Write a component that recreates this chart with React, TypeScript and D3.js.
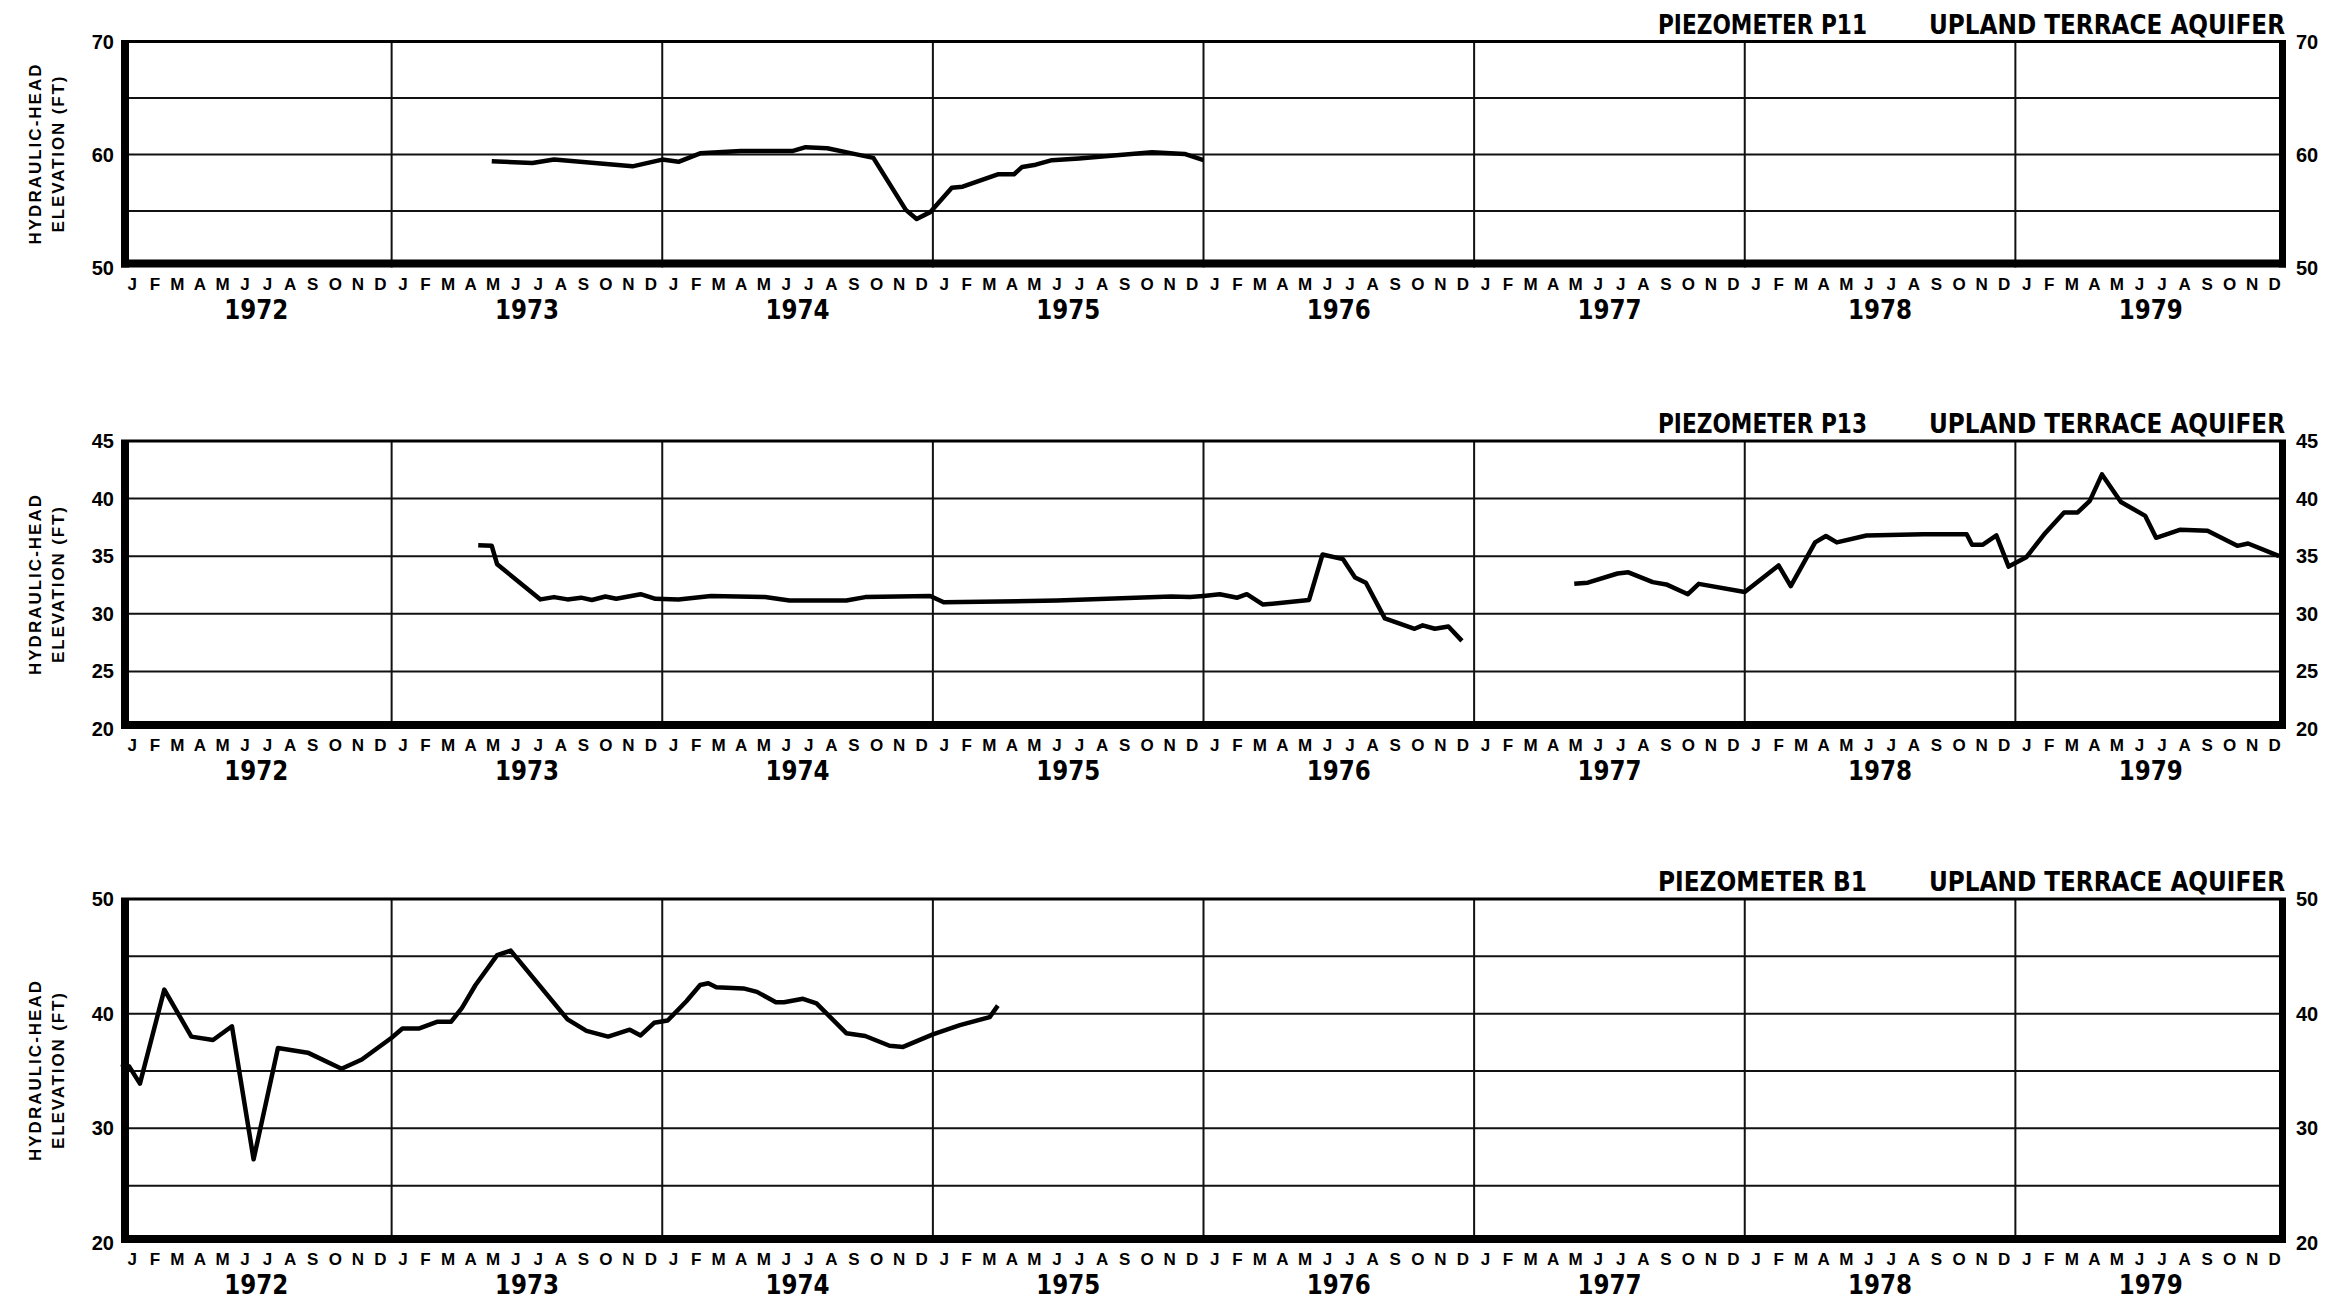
import * as d3 from 'd3'
import React, { useEffect, useRef } from 'react'

// time axis
const years = [1972, 1973, 1974, 1975, 1976, 1977, 1978, 1979]
const monthLetters = ['J', 'F', 'M', 'A', 'M', 'J', 'J', 'A', 'S', 'O', 'N', 'D']

// piezometer P11 (decimal year, head in ft)
const p11Dates = [
  1973.37, 1973.52, 1973.6, 1973.89, 1974.0, 1974.06, 1974.14, 1974.29, 1974.48,
  1974.53, 1974.61, 1974.7, 1974.78, 1974.9, 1974.94, 1974.99, 1975.07, 1975.11,
  1975.24, 1975.3, 1975.33, 1975.38, 1975.44, 1975.54, 1975.69, 1975.81, 1975.93,
  1976.0
]
const p11Heads = [
  59.4, 59.25, 59.55, 58.95, 59.55, 59.35, 60.1, 60.3, 60.3,
  60.65, 60.55, 60.1, 59.7, 55.1, 54.3, 54.9, 57.05, 57.15,
  58.25, 58.25, 58.9, 59.1, 59.5, 59.65, 59.95, 60.2, 60.05,
  59.5
]

// piezometer P13, first record
const p13aDates = [
  1973.32, 1973.37, 1973.39, 1973.55, 1973.6, 1973.65, 1973.7, 1973.74, 1973.79,
  1973.83, 1973.92, 1973.975, 1974.06, 1974.18, 1974.38, 1974.47, 1974.68, 1974.75,
  1974.99, 1975.04, 1975.46, 1975.88, 1975.95, 1976.0, 1976.06, 1976.125, 1976.16,
  1976.22, 1976.39, 1976.44, 1976.515, 1976.56, 1976.6, 1976.67, 1976.78, 1976.81,
  1976.855, 1976.905, 1976.955
]
const p13aHeads = [
  35.95, 35.9, 34.3, 31.25, 31.45, 31.25, 31.4, 31.2, 31.5,
  31.3, 31.7, 31.3, 31.25, 31.55, 31.45, 31.15, 31.15, 31.45,
  31.55, 31.0, 31.15, 31.5, 31.45, 31.55, 31.7, 31.4, 31.7,
  30.8, 31.2, 35.15, 34.75, 33.15, 32.7, 29.6, 28.7, 29.0,
  28.7, 28.9, 27.65
]

// piezometer P13, second record
const p13bDates = [
  1977.37, 1977.42, 1977.53, 1977.57, 1977.66, 1977.71, 1977.79, 1977.83, 1978.0,
  1978.125, 1978.17, 1978.26, 1978.3, 1978.34, 1978.45, 1978.66, 1978.82, 1978.84,
  1978.88, 1978.93, 1978.975, 1979.04, 1979.11, 1979.18, 1979.23, 1979.275, 1979.32,
  1979.39, 1979.48, 1979.52, 1979.61, 1979.71, 1979.82, 1979.86, 1979.975
]
const p13bHeads = [
  32.6, 32.7, 33.5, 33.6, 32.75, 32.55, 31.7, 32.6, 31.9,
  34.2, 32.4, 36.2, 36.75, 36.2, 36.8, 36.9, 36.9, 36.0,
  36.0, 36.8, 34.1, 34.9, 37.0, 38.8, 38.8, 39.8, 42.1,
  39.7, 38.5, 36.6, 37.3, 37.2, 35.9, 36.1, 35.0
]

// piezometer B1
const b1Dates = [
  1972.0, 1972.03, 1972.07, 1972.16, 1972.26, 1972.34, 1972.41, 1972.49, 1972.58,
  1972.69, 1972.815, 1972.89, 1973.0, 1973.04, 1973.1, 1973.17, 1973.22, 1973.26,
  1973.31, 1973.39, 1973.44, 1973.65, 1973.72, 1973.8, 1973.88, 1973.92, 1973.97,
  1974.02, 1974.09, 1974.14, 1974.17, 1974.2, 1974.3, 1974.35, 1974.42, 1974.45,
  1974.52, 1974.57, 1974.68, 1974.75, 1974.84, 1974.89, 1975.0, 1975.1, 1975.21,
  1975.24
]
const b1Heads = [
  35.6, 35.4, 33.9, 42.1, 38.0, 37.7, 38.9, 27.3, 37.0,
  36.6, 35.2, 36.0, 37.9, 38.7, 38.7, 39.3, 39.3, 40.5,
  42.5, 45.1, 45.5, 39.5, 38.5, 38.0, 38.6, 38.1, 39.2,
  39.4, 41.1, 42.5, 42.65, 42.3, 42.2, 41.9, 41.0, 41.0,
  41.3, 40.9, 38.3, 38.05, 37.2, 37.1, 38.2, 39.0, 39.7,
  40.7
]

const panels = [
  { name: 'PIEZOMETER P11', top: 41.5, bottom: 267.5, domain: [50, 70], labelStep: 10,
    series: [[p11Dates, p11Heads]] },
  { name: 'PIEZOMETER P13', top: 441, bottom: 729, domain: [20, 45], labelStep: 5,
    series: [[p13aDates, p13aHeads], [p13bDates, p13bHeads]] },
  { name: 'PIEZOMETER B1', top: 899, bottom: 1243, domain: [20, 50], labelStep: 10,
    series: [[b1Dates, b1Heads]] }
]

const W = 2336
const H = 1302
const X0 = 121
const X1 = 2286
const SANS = "'Liberation Sans', Arial, sans-serif"
const NARROW = "'Liberation Sans Narrow', 'DejaVu Sans Condensed', 'Liberation Sans', sans-serif"

const drawPanel = (svg, panel) => {
  const x = d3.scaleLinear().domain([1972, 1980]).range([X0, X1])
  const y = d3.scaleLinear().domain(panel.domain).range([panel.bottom, panel.top])
  const g = svg.append('g')

  // horizontal grid every 5 ft
  const gridVals = d3.range(panel.domain[0] + 5, panel.domain[1], 5)
  g.selectAll('line.h')
    .data(gridVals)
    .enter()
    .append('line')
    .attr('x1', X0)
    .attr('x2', X1)
    .attr('y1', d => y(d))
    .attr('y2', d => y(d))
    .attr('stroke', '#111')
    .attr('stroke-width', 2)

  // year separators
  g.selectAll('line.v')
    .data(years.slice(1))
    .enter()
    .append('line')
    .attr('x1', d => x(d))
    .attr('x2', d => x(d))
    .attr('y1', panel.top)
    .attr('y2', panel.bottom)
    .attr('stroke', '#111')
    .attr('stroke-width', 2)

  // frame: thin top, heavy left / bottom / right
  g.append('line')
    .attr('x1', X0)
    .attr('x2', X1)
    .attr('y1', panel.top)
    .attr('y2', panel.top)
    .attr('stroke', '#000')
    .attr('stroke-width', 3)
  g.append('rect').attr('x', X0).attr('y', panel.top - 1).attr('width', 8)
    .attr('height', panel.bottom - panel.top + 1).attr('fill', '#000')
  g.append('rect').attr('x', X0).attr('y', panel.bottom - 8).attr('width', X1 - X0)
    .attr('height', 8).attr('fill', '#000')
  g.append('rect').attr('x', X1 - 7).attr('y', panel.top - 1).attr('width', 7)
    .attr('height', panel.bottom - panel.top + 1).attr('fill', '#000')

  // data lines
  const line = d3.line().x(d => x(d[0])).y(d => y(d[1]))
  panel.series.forEach(([dates, heads]) => {
    g.append('path')
      .datum(d3.zip(dates, heads))
      .attr('d', line)
      .attr('fill', 'none')
      .attr('stroke', '#000')
      .attr('stroke-width', 4.5)
      .attr('stroke-linejoin', 'round')
  })

  // value labels both sides
  const labelVals = d3.range(panel.domain[0], panel.domain[1] + 0.1, panel.labelStep)
  ;[
    { xPos: 114, anchor: 'end' },
    { xPos: 2296, anchor: 'start' }
  ].forEach(side => {
    g.selectAll(null)
      .data(labelVals)
      .enter()
      .append('text')
      .attr('x', side.xPos)
      .attr('y', d => y(d) + 7)
      .attr('text-anchor', side.anchor)
      .style('font-family', SANS)
      .style('font-weight', 'bold')
      .style('font-size', '20px')
      .text(d => d)
  })

  // month letters and years
  years.forEach(yr => {
    g.selectAll(null)
      .data(monthLetters)
      .enter()
      .append('text')
      .attr('x', (d, i) => x(yr + (i + 0.5) / 12))
      .attr('y', panel.bottom + 22)
      .attr('text-anchor', 'middle')
      .style('font-family', SANS)
      .style('font-weight', 'bold')
      .style('font-size', '17px')
      .text(d => d)
    g.append('text')
      .attr('x', x(yr + 0.5))
      .attr('y', panel.bottom + 51)
      .attr('text-anchor', 'middle')
      .attr('textLength', 64)
      .attr('lengthAdjust', 'spacingAndGlyphs')
      .style('font-family', NARROW)
      .style('font-weight', 'bold')
      .style('font-size', '27px')
      .text(yr)
  })

  // axis title
  const midY = (panel.top + panel.bottom) / 2
  ;[
    { t: 'HYDRAULIC-HEAD', cx: 35, len: 180 },
    { t: 'ELEVATION (FT)', cx: 58, len: 156 }
  ].forEach(lbl => {
    g.append('text')
      .attr('transform', `translate(${lbl.cx + 6},${midY}) rotate(-90)`)
      .attr('text-anchor', 'middle')
      .attr('textLength', lbl.len)
      .attr('lengthAdjust', 'spacing')
      .style('font-family', SANS)
      .style('font-weight', 'bold')
      .style('font-size', '17px')
      .text(lbl.t)
  })

  // titles
  g.append('text')
    .attr('x', 1658)
    .attr('y', panel.top - 8)
    .attr('textLength', 209)
    .attr('lengthAdjust', 'spacingAndGlyphs')
    .style('font-family', NARROW)
    .style('font-weight', 'bold')
    .style('font-size', '26px')
    .text(panel.name)
  g.append('text')
    .attr('x', 1929)
    .attr('y', panel.top - 8)
    .attr('textLength', 356)
    .attr('lengthAdjust', 'spacingAndGlyphs')
    .style('font-family', NARROW)
    .style('font-weight', 'bold')
    .style('font-size', '26px')
    .text('UPLAND TERRACE AQUIFER')
}

export default function App() {
  const ref = useRef(null)

  useEffect(() => {
    const svg = d3.select(ref.current)
    svg.selectAll('*').remove()
    panels.forEach(p => drawPanel(svg, p))
  }, [ref])

  return (
    <div style={{ position: 'absolute', left: 0, top: 0 }}>
      <svg ref={ref} width={W} height={H} style={{ display: 'block', background: '#fff' }} />
    </div>
  )
}
